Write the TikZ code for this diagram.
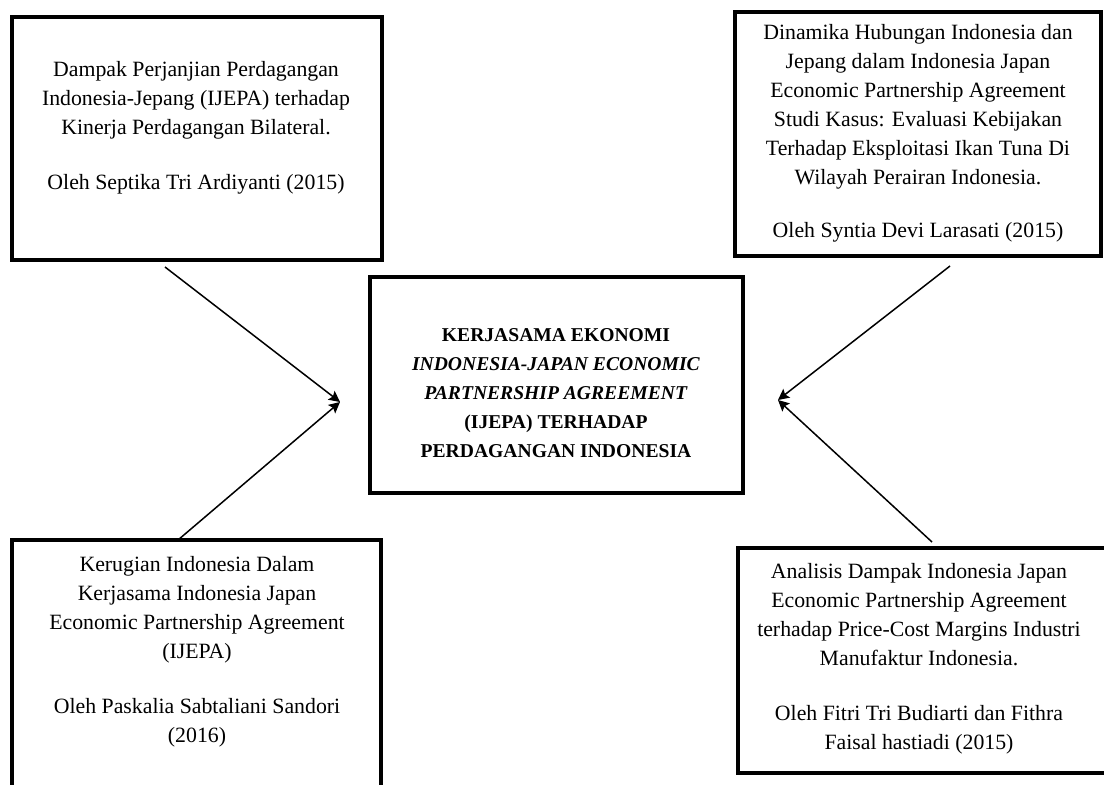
\documentclass[tikz,border=0pt]{standalone}
\usepackage{fontspec}
\setmainfont{Liberation Serif}
\usetikzlibrary{arrows.meta}
\tikzset{
  refbox/.style={draw=black, line width=3.2pt},
  reftext/.style={align=center, anchor=north, inner sep=0pt, font=\fontsize{21.8}{29}\selectfont},
  centertext/.style={align=center, anchor=north, inner sep=0pt, font=\fontsize{19.6}{29}\selectfont\bfseries},
  conn/.style={line width=1.5pt, -{Stealth[length=11pt,width=11pt,inset=2pt]}}
}
\begin{document}
\begin{tikzpicture}[x=1pt,y=-1pt]
\clip (0,0) rectangle (1104,785);
\fill[white] (0,0) rectangle (1104,785);
% boxes
\draw[refbox] (12,17) rectangle (382,260);
\draw[refbox] (735,12) rectangle (1101,256);
\draw[refbox] (370,277) rectangle (743,493);
\draw[refbox] (12,540) rectangle (381,795);
\draw[refbox] (738,548) rectangle (1110,773);
% texts
\node[reftext] (tl) at (196,61) {Dampak Perjanjian Perdagangan\\Indonesia-Jepang (IJEPA) terhadap\\Kinerja Perdagangan Bilateral.\\[26pt]Oleh Septika Tri Ardiyanti (2015)};
\node[reftext] (tr) at (918,24) {Dinamika Hubungan Indonesia dan\\Jepang dalam Indonesia Japan\\Economic Partnership Agreement\\Studi Kasus: Evaluasi Kebijakan\\Terhadap Eksploitasi Ikan Tuna Di\\Wilayah Perairan Indonesia.\\[24pt]Oleh Syntia Devi Larasati (2015)};
\node[centertext] (c) at (556,328) {KERJASAMA EKONOMI\\\textit{INDONESIA-JAPAN ECONOMIC}\\\textit{PARTNERSHIP AGREEMENT}\\(IJEPA) TERHADAP\\PERDAGANGAN INDONESIA};
\node[reftext] (bl) at (197,556) {Kerugian Indonesia Dalam\\Kerjasama Indonesia Japan\\Economic Partnership Agreement\\(IJEPA)\\[26pt]Oleh Paskalia Sabtaliani Sandori\\(2016)};
\node[reftext] (br) at (919,563) {Analisis Dampak Indonesia Japan\\Economic Partnership Agreement\\terhadap Price-Cost Margins Industri\\Manufaktur Indonesia.\\[26pt]Oleh Fitri Tri Budiarti dan Fithra\\Faisal hastiadi (2015)};
% connector endpoints
\coordinate (tlend) at (165,267);
\coordinate (blend) at (178,540);
\coordinate (trend) at (950,266);
\coordinate (brend) at (932,542);
\coordinate (ltip) at (340,402);
\coordinate (rtip) at (778,400);
\draw[conn] (tlend) -- (ltip);
\draw[conn] (blend) -- (ltip);
\draw[conn] (trend) -- (rtip);
\draw[conn] (brend) -- (rtip);
\end{tikzpicture}
\end{document}
